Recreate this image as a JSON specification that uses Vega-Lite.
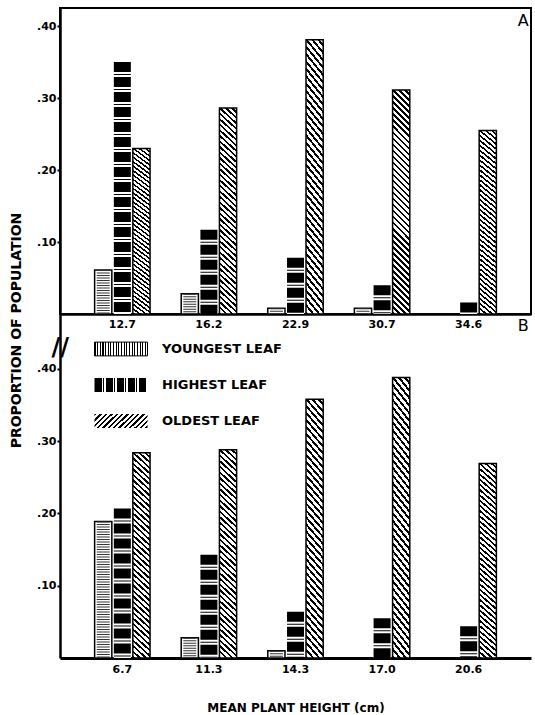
{
  "$schema": "https://vega.github.io/schema/vega-lite/v6.json",
  "background": "white",
  "padding": {"left": 8, "top": 7, "right": 0, "bottom": 0},
  "bounds": "flush",
  "spacing": 0,
  "data": {"values": [
    {"panel": "A", "height": "12.7", "leaf": "YOUNGEST LEAF", "value": 0.061},
    {"panel": "A", "height": "12.7", "leaf": "HIGHEST LEAF", "value": 0.350},
    {"panel": "A", "height": "12.7", "leaf": "OLDEST LEAF", "value": 0.230},
    {"panel": "A", "height": "16.2", "leaf": "YOUNGEST LEAF", "value": 0.028},
    {"panel": "A", "height": "16.2", "leaf": "HIGHEST LEAF", "value": 0.117},
    {"panel": "A", "height": "16.2", "leaf": "OLDEST LEAF", "value": 0.286},
    {"panel": "A", "height": "22.9", "leaf": "YOUNGEST LEAF", "value": 0.008},
    {"panel": "A", "height": "22.9", "leaf": "HIGHEST LEAF", "value": 0.078},
    {"panel": "A", "height": "22.9", "leaf": "OLDEST LEAF", "value": 0.381},
    {"panel": "A", "height": "30.7", "leaf": "YOUNGEST LEAF", "value": 0.008},
    {"panel": "A", "height": "30.7", "leaf": "HIGHEST LEAF", "value": 0.040},
    {"panel": "A", "height": "30.7", "leaf": "OLDEST LEAF", "value": 0.311},
    {"panel": "A", "height": "34.6", "leaf": "YOUNGEST LEAF", "value": 0},
    {"panel": "A", "height": "34.6", "leaf": "HIGHEST LEAF", "value": 0.016},
    {"panel": "A", "height": "34.6", "leaf": "OLDEST LEAF", "value": 0.255},
    {"panel": "B", "height": "6.7", "leaf": "YOUNGEST LEAF", "value": 0.189},
    {"panel": "B", "height": "6.7", "leaf": "HIGHEST LEAF", "value": 0.207},
    {"panel": "B", "height": "6.7", "leaf": "OLDEST LEAF", "value": 0.284},
    {"panel": "B", "height": "11.3", "leaf": "YOUNGEST LEAF", "value": 0.028},
    {"panel": "B", "height": "11.3", "leaf": "HIGHEST LEAF", "value": 0.143},
    {"panel": "B", "height": "11.3", "leaf": "OLDEST LEAF", "value": 0.288},
    {"panel": "B", "height": "14.3", "leaf": "YOUNGEST LEAF", "value": 0.010},
    {"panel": "B", "height": "14.3", "leaf": "HIGHEST LEAF", "value": 0.064},
    {"panel": "B", "height": "14.3", "leaf": "OLDEST LEAF", "value": 0.358},
    {"panel": "B", "height": "17.0", "leaf": "YOUNGEST LEAF", "value": 0},
    {"panel": "B", "height": "17.0", "leaf": "HIGHEST LEAF", "value": 0.055},
    {"panel": "B", "height": "17.0", "leaf": "OLDEST LEAF", "value": 0.388},
    {"panel": "B", "height": "20.6", "leaf": "YOUNGEST LEAF", "value": 0},
    {"panel": "B", "height": "20.6", "leaf": "HIGHEST LEAF", "value": 0.044},
    {"panel": "B", "height": "20.6", "leaf": "OLDEST LEAF", "value": 0.269}
  ]},
  "resolve": {"scale": {"opacity": "independent"}, "legend": {"opacity": "independent"}},
  "vconcat": [
    {
      "width": 471,
      "height": 306,
      "transform": [{"filter": "datum.panel === 'A'"}],
      "encoding": {
        "x": {"field": "height", "type": "nominal", "sort": null,
              "scale": {"domain": ["12.7", "16.2", "22.9", "30.7", "34.6"], "paddingInner": 0.36, "paddingOuter": 0.4},
              "axis": {"title": null, "labelAngle": 0, "tickSize": 0, "labelPadding": 4, "domainWidth": 2.5}},
        "xOffset": {"field": "leaf", "type": "nominal", "sort": ["YOUNGEST LEAF", "HIGHEST LEAF", "OLDEST LEAF"],
              "scale": {"domain": ["YOUNGEST LEAF", "HIGHEST LEAF", "OLDEST LEAF"], "paddingInner": 0.1, "paddingOuter": 0}},
        "y": {"field": "value", "type": "quantitative",
              "scale": {"domain": [0, 0.425], "nice": false},
              "axis": {"title": "PROPORTION OF POPULATION", "titleY": 322, "titlePadding": 13, "titleFontSize": 14, "titleFontWeight": "bold",
                       "values": [0.1, 0.2, 0.3, 0.4], "labelExpr": "slice(format(datum.value, '.2f'), 1)",
                       "tickSize": 3, "tickWidth": 2, "labelPadding": 1, "domainWidth": 2.5}}
      },
      "layer": [
        {
          "transform": [{"filter": "datum.leaf !== 'OLDEST LEAF'"}],
          "mark": {"type": "bar", "strokeWidth": 1.5, "fill": "#ffffff"},
          "encoding": {
            "stroke": {"condition": {"test": "datum.leaf === 'HIGHEST LEAF'", "value": "transparent"}, "value": "#000000"}
          }
        },
        {
          "transform": [{"filter": "datum.leaf === 'OLDEST LEAF'"}],
          "mark": {"type": "bar", "stroke": "#000000", "strokeWidth": 1.5,
            "fill": {"gradient": "linear", "x1": 0, "y1": 1, "x2": 0.08235, "y2": -0.07059, "stops": [
        {"offset":0,"color":"#000"},{"offset":0.0105,"color":"#000"},{"offset":0.0105,"color":"#fff"},{"offset":0.025,"color":"#fff"},
        {"offset":0.025,"color":"#000"},{"offset":0.0355,"color":"#000"},{"offset":0.0355,"color":"#fff"},{"offset":0.05,"color":"#fff"},
        {"offset":0.05,"color":"#000"},{"offset":0.0605,"color":"#000"},{"offset":0.0605,"color":"#fff"},{"offset":0.075,"color":"#fff"},
        {"offset":0.075,"color":"#000"},{"offset":0.0855,"color":"#000"},{"offset":0.0855,"color":"#fff"},{"offset":0.1,"color":"#fff"},
        {"offset":0.1,"color":"#000"},{"offset":0.1105,"color":"#000"},{"offset":0.1105,"color":"#fff"},{"offset":0.125,"color":"#fff"},
        {"offset":0.125,"color":"#000"},{"offset":0.1355,"color":"#000"},{"offset":0.1355,"color":"#fff"},{"offset":0.15,"color":"#fff"},
        {"offset":0.15,"color":"#000"},{"offset":0.1605,"color":"#000"},{"offset":0.1605,"color":"#fff"},{"offset":0.175,"color":"#fff"},
        {"offset":0.175,"color":"#000"},{"offset":0.1855,"color":"#000"},{"offset":0.1855,"color":"#fff"},{"offset":0.2,"color":"#fff"},
        {"offset":0.2,"color":"#000"},{"offset":0.2105,"color":"#000"},{"offset":0.2105,"color":"#fff"},{"offset":0.225,"color":"#fff"},
        {"offset":0.225,"color":"#000"},{"offset":0.2355,"color":"#000"},{"offset":0.2355,"color":"#fff"},{"offset":0.25,"color":"#fff"},
        {"offset":0.25,"color":"#000"},{"offset":0.2605,"color":"#000"},{"offset":0.2605,"color":"#fff"},{"offset":0.275,"color":"#fff"},
        {"offset":0.275,"color":"#000"},{"offset":0.2855,"color":"#000"},{"offset":0.2855,"color":"#fff"},{"offset":0.3,"color":"#fff"},
        {"offset":0.3,"color":"#000"},{"offset":0.3105,"color":"#000"},{"offset":0.3105,"color":"#fff"},{"offset":0.325,"color":"#fff"},
        {"offset":0.325,"color":"#000"},{"offset":0.3355,"color":"#000"},{"offset":0.3355,"color":"#fff"},{"offset":0.35,"color":"#fff"},
        {"offset":0.35,"color":"#000"},{"offset":0.3605,"color":"#000"},{"offset":0.3605,"color":"#fff"},{"offset":0.375,"color":"#fff"},
        {"offset":0.375,"color":"#000"},{"offset":0.3855,"color":"#000"},{"offset":0.3855,"color":"#fff"},{"offset":0.4,"color":"#fff"},
        {"offset":0.4,"color":"#000"},{"offset":0.4105,"color":"#000"},{"offset":0.4105,"color":"#fff"},{"offset":0.425,"color":"#fff"},
        {"offset":0.425,"color":"#000"},{"offset":0.4355,"color":"#000"},{"offset":0.4355,"color":"#fff"},{"offset":0.45,"color":"#fff"},
        {"offset":0.45,"color":"#000"},{"offset":0.4605,"color":"#000"},{"offset":0.4605,"color":"#fff"},{"offset":0.475,"color":"#fff"},
        {"offset":0.475,"color":"#000"},{"offset":0.4855,"color":"#000"},{"offset":0.4855,"color":"#fff"},{"offset":0.5,"color":"#fff"},
        {"offset":0.5,"color":"#000"},{"offset":0.5105,"color":"#000"},{"offset":0.5105,"color":"#fff"},{"offset":0.525,"color":"#fff"},
        {"offset":0.525,"color":"#000"},{"offset":0.5355,"color":"#000"},{"offset":0.5355,"color":"#fff"},{"offset":0.55,"color":"#fff"},
        {"offset":0.55,"color":"#000"},{"offset":0.5605,"color":"#000"},{"offset":0.5605,"color":"#fff"},{"offset":0.575,"color":"#fff"},
        {"offset":0.575,"color":"#000"},{"offset":0.5855,"color":"#000"},{"offset":0.5855,"color":"#fff"},{"offset":0.6,"color":"#fff"},
        {"offset":0.6,"color":"#000"},{"offset":0.6105,"color":"#000"},{"offset":0.6105,"color":"#fff"},{"offset":0.625,"color":"#fff"},
        {"offset":0.625,"color":"#000"},{"offset":0.6355,"color":"#000"},{"offset":0.6355,"color":"#fff"},{"offset":0.65,"color":"#fff"},
        {"offset":0.65,"color":"#000"},{"offset":0.6605,"color":"#000"},{"offset":0.6605,"color":"#fff"},{"offset":0.675,"color":"#fff"},
        {"offset":0.675,"color":"#000"},{"offset":0.6855,"color":"#000"},{"offset":0.6855,"color":"#fff"},{"offset":0.7,"color":"#fff"},
        {"offset":0.7,"color":"#000"},{"offset":0.7105,"color":"#000"},{"offset":0.7105,"color":"#fff"},{"offset":0.725,"color":"#fff"},
        {"offset":0.725,"color":"#000"},{"offset":0.7355,"color":"#000"},{"offset":0.7355,"color":"#fff"},{"offset":0.75,"color":"#fff"},
        {"offset":0.75,"color":"#000"},{"offset":0.7605,"color":"#000"},{"offset":0.7605,"color":"#fff"},{"offset":0.775,"color":"#fff"},
        {"offset":0.775,"color":"#000"},{"offset":0.7855,"color":"#000"},{"offset":0.7855,"color":"#fff"},{"offset":0.8,"color":"#fff"},
        {"offset":0.8,"color":"#000"},{"offset":0.8105,"color":"#000"},{"offset":0.8105,"color":"#fff"},{"offset":0.825,"color":"#fff"},
        {"offset":0.825,"color":"#000"},{"offset":0.8355,"color":"#000"},{"offset":0.8355,"color":"#fff"},{"offset":0.85,"color":"#fff"},
        {"offset":0.85,"color":"#000"},{"offset":0.8605,"color":"#000"},{"offset":0.8605,"color":"#fff"},{"offset":0.875,"color":"#fff"},
        {"offset":0.875,"color":"#000"},{"offset":0.8855,"color":"#000"},{"offset":0.8855,"color":"#fff"},{"offset":0.9,"color":"#fff"},
        {"offset":0.9,"color":"#000"},{"offset":0.9105,"color":"#000"},{"offset":0.9105,"color":"#fff"},{"offset":0.925,"color":"#fff"},
        {"offset":0.925,"color":"#000"},{"offset":0.9355,"color":"#000"},{"offset":0.9355,"color":"#fff"},{"offset":0.95,"color":"#fff"},
        {"offset":0.95,"color":"#000"},{"offset":0.9605,"color":"#000"},{"offset":0.9605,"color":"#fff"},{"offset":0.975,"color":"#fff"},
        {"offset":0.975,"color":"#000"},{"offset":0.9855,"color":"#000"},{"offset":0.9855,"color":"#fff"},{"offset":1,"color":"#fff"}
            ]}}
        },
        {
          "transform": [{"filter": "datum.leaf === 'YOUNGEST LEAF'"}],
          "mark": {"type": "rule", "strokeWidth": 13, "strokeDash": [1, 1.5], "color": "#333333"},
          "encoding": {"y2": {"datum": 0}}
        },
        {
          "transform": [{"filter": "datum.leaf === 'HIGHEST LEAF'"}],
          "mark": {"type": "rule", "strokeWidth": 17, "strokeDash": [10, 2, 1, 2], "color": "#000000"},
          "encoding": {"y2": {"datum": 0}}
        },
        {
          "transform": [{"filter": "datum.leaf === 'OLDEST LEAF' && datum.height === '34.6'"}],
          "mark": {"type": "text", "text": "A", "align": "right", "baseline": "alphabetic", "dx": 41, "fontSize": 16, "font": "DejaVu Sans", "color": "#000000"},
          "encoding": {"y": {"datum": 0.40}}
        }
      ]
    },
    {
      "width": 471,
      "height": 344,
      "view": {"stroke": null},
      "transform": [{"filter": "datum.panel === 'B'"}],
      "encoding": {
        "x": {"field": "height", "type": "nominal", "sort": null,
              "scale": {"domain": ["6.7", "11.3", "14.3", "17.0", "20.6"], "paddingInner": 0.36, "paddingOuter": 0.4},
              "axis": {"title": "MEAN PLANT HEIGHT (cm)", "titlePadding": 28, "titleFontSize": 12, "titleFontWeight": "bold",
                       "labelAngle": 0, "tickSize": 0, "labelPadding": 5, "domainWidth": 3}},
        "xOffset": {"field": "leaf", "type": "nominal", "sort": ["YOUNGEST LEAF", "HIGHEST LEAF", "OLDEST LEAF"],
              "scale": {"domain": ["YOUNGEST LEAF", "HIGHEST LEAF", "OLDEST LEAF"], "paddingInner": 0.1, "paddingOuter": 0}},
        "y": {"field": "value", "type": "quantitative",
              "scale": {"domain": [0, 0.476], "nice": false},
              "axis": {"title": null, "values": [0.1, 0.2, 0.3, 0.4], "labelExpr": "slice(format(datum.value, '.2f'), 1)",
                       "tickSize": 3, "tickWidth": 2, "labelPadding": 1, "domainWidth": 2.5}}
      },
      "layer": [
        {
          "transform": [{"filter": "datum.leaf !== 'OLDEST LEAF'"}],
          "mark": {"type": "bar", "strokeWidth": 1.5, "fill": "#ffffff"},
          "encoding": {
            "opacity": {"field": "leaf", "type": "nominal",
                     "scale": {"domain": ["YOUNGEST LEAF", "HIGHEST LEAF", "OLDEST LEAF"], "range": [1, 1, 1]},
                     "legend": {
                       "orient": "none", "legendX": 34, "legendY": 8, "title": null, "padding": 0,
                       "symbolType": "M-1,-0.26H1V0.26H-1Z", "symbolSize": 2809, "rowPadding": -21.5,
                       "symbolStrokeWidth": 1, "symbolOpacity": 1,
                       "labelOffset": 14, "labelFontSize": 13, "labelFont": "DejaVu Sans", "labelColor": "#000", "labelFontWeight": "bold",
                       "encoding": {"symbols": {
                         "fill": {"value": {"expr": "datum.value === 'YOUNGEST LEAF' ? {gradient: 'linear', x1: 0, y1: 0, x2: 1, y2: 0, stops: [{offset:0,color:'#000'},{offset:0.02,color:'#000'},{offset:0.02,color:'#fff'},{offset:0.05,color:'#fff'},{offset:0.05,color:'#000'},{offset:0.07,color:'#000'},{offset:0.07,color:'#fff'},{offset:0.1,color:'#fff'},{offset:0.1,color:'#000'},{offset:0.12,color:'#000'},{offset:0.12,color:'#fff'},{offset:0.15,color:'#fff'},{offset:0.15,color:'#000'},{offset:0.17,color:'#000'},{offset:0.17,color:'#fff'},{offset:0.2,color:'#fff'},{offset:0.2,color:'#000'},{offset:0.22,color:'#000'},{offset:0.22,color:'#fff'},{offset:0.25,color:'#fff'},{offset:0.25,color:'#000'},{offset:0.27,color:'#000'},{offset:0.27,color:'#fff'},{offset:0.3,color:'#fff'},{offset:0.3,color:'#000'},{offset:0.32,color:'#000'},{offset:0.32,color:'#fff'},{offset:0.35,color:'#fff'},{offset:0.35,color:'#000'},{offset:0.37,color:'#000'},{offset:0.37,color:'#fff'},{offset:0.4,color:'#fff'},{offset:0.4,color:'#000'},{offset:0.42,color:'#000'},{offset:0.42,color:'#fff'},{offset:0.45,color:'#fff'},{offset:0.45,color:'#000'},{offset:0.47,color:'#000'},{offset:0.47,color:'#fff'},{offset:0.5,color:'#fff'},{offset:0.5,color:'#000'},{offset:0.52,color:'#000'},{offset:0.52,color:'#fff'},{offset:0.55,color:'#fff'},{offset:0.55,color:'#000'},{offset:0.57,color:'#000'},{offset:0.57,color:'#fff'},{offset:0.6,color:'#fff'},{offset:0.6,color:'#000'},{offset:0.62,color:'#000'},{offset:0.62,color:'#fff'},{offset:0.65,color:'#fff'},{offset:0.65,color:'#000'},{offset:0.67,color:'#000'},{offset:0.67,color:'#fff'},{offset:0.7,color:'#fff'},{offset:0.7,color:'#000'},{offset:0.72,color:'#000'},{offset:0.72,color:'#fff'},{offset:0.75,color:'#fff'},{offset:0.75,color:'#000'},{offset:0.77,color:'#000'},{offset:0.77,color:'#fff'},{offset:0.8,color:'#fff'},{offset:0.8,color:'#000'},{offset:0.82,color:'#000'},{offset:0.82,color:'#fff'},{offset:0.85,color:'#fff'},{offset:0.85,color:'#000'},{offset:0.87,color:'#000'},{offset:0.87,color:'#fff'},{offset:0.9,color:'#fff'},{offset:0.9,color:'#000'},{offset:0.92,color:'#000'},{offset:0.92,color:'#fff'},{offset:0.95,color:'#fff'},{offset:0.95,color:'#000'},{offset:0.97,color:'#000'},{offset:0.97,color:'#fff'},{offset:1,color:'#fff'}]} : datum.value === 'HIGHEST LEAF' ? {gradient: 'linear', x1: 0, y1: 0, x2: 1.04, y2: 0, stops: [{offset:0,color:'#000'},{offset:0.14,color:'#000'},{offset:0.14,color:'#fff'},{offset:0.16,color:'#fff'},{offset:0.16,color:'#000'},{offset:0.175,color:'#000'},{offset:0.175,color:'#fff'},{offset:0.2,color:'#fff'},{offset:0.2,color:'#000'},{offset:0.34,color:'#000'},{offset:0.34,color:'#fff'},{offset:0.36,color:'#fff'},{offset:0.36,color:'#000'},{offset:0.375,color:'#000'},{offset:0.375,color:'#fff'},{offset:0.4,color:'#fff'},{offset:0.4,color:'#000'},{offset:0.54,color:'#000'},{offset:0.54,color:'#fff'},{offset:0.56,color:'#fff'},{offset:0.56,color:'#000'},{offset:0.575,color:'#000'},{offset:0.575,color:'#fff'},{offset:0.6,color:'#fff'},{offset:0.6,color:'#000'},{offset:0.74,color:'#000'},{offset:0.74,color:'#fff'},{offset:0.76,color:'#fff'},{offset:0.76,color:'#000'},{offset:0.775,color:'#000'},{offset:0.775,color:'#fff'},{offset:0.8,color:'#fff'},{offset:0.8,color:'#000'},{offset:0.94,color:'#000'},{offset:0.94,color:'#fff'},{offset:1,color:'#fff'}]} : {gradient: 'linear', x1: 0, y1: 0, x2: 1.1816, y2: 0.312, stops: [{offset:0,color:'#000'},{offset:0.035,color:'#000'},{offset:0.035,color:'#fff'},{offset:0.08,color:'#fff'},{offset:0.08,color:'#000'},{offset:0.115,color:'#000'},{offset:0.115,color:'#fff'},{offset:0.16,color:'#fff'},{offset:0.16,color:'#000'},{offset:0.195,color:'#000'},{offset:0.195,color:'#fff'},{offset:0.24,color:'#fff'},{offset:0.24,color:'#000'},{offset:0.275,color:'#000'},{offset:0.275,color:'#fff'},{offset:0.32,color:'#fff'},{offset:0.32,color:'#000'},{offset:0.355,color:'#000'},{offset:0.355,color:'#fff'},{offset:0.4,color:'#fff'},{offset:0.4,color:'#000'},{offset:0.435,color:'#000'},{offset:0.435,color:'#fff'},{offset:0.48,color:'#fff'},{offset:0.48,color:'#000'},{offset:0.515,color:'#000'},{offset:0.515,color:'#fff'},{offset:0.56,color:'#fff'},{offset:0.56,color:'#000'},{offset:0.595,color:'#000'},{offset:0.595,color:'#fff'},{offset:0.64,color:'#fff'},{offset:0.64,color:'#000'},{offset:0.675,color:'#000'},{offset:0.675,color:'#fff'},{offset:0.72,color:'#fff'},{offset:0.72,color:'#000'},{offset:0.755,color:'#000'},{offset:0.755,color:'#fff'},{offset:0.8,color:'#fff'},{offset:0.8,color:'#000'},{offset:0.835,color:'#000'},{offset:0.835,color:'#fff'},{offset:0.88,color:'#fff'},{offset:0.88,color:'#000'},{offset:0.915,color:'#000'},{offset:0.915,color:'#fff'},{offset:0.96,color:'#fff'},{offset:0.96,color:'#000'},{offset:0.995,color:'#000'},{offset:0.995,color:'#fff'},{offset:1,color:'#fff'}]}"}},
                         "stroke": {"value": {"expr": "datum.value === 'YOUNGEST LEAF' ? '#000' : 'transparent'"}},
                         "strokeWidth": {"value": 1},
                         "fillOpacity": {"value": 1}
                       }}
                     }},
            "stroke": {"condition": {"test": "datum.leaf === 'HIGHEST LEAF'", "value": "transparent"}, "value": "#000000"}
          }
        },
        {
          "transform": [{"filter": "datum.leaf === 'OLDEST LEAF'"}],
          "mark": {"type": "bar", "stroke": "#000000", "strokeWidth": 1.5,
            "fill": {"gradient": "linear", "x1": 0, "y1": 1, "x2": 0.08235, "y2": -0.07059, "stops": [
        {"offset":0,"color":"#000"},{"offset":0.0105,"color":"#000"},{"offset":0.0105,"color":"#fff"},{"offset":0.025,"color":"#fff"},
        {"offset":0.025,"color":"#000"},{"offset":0.0355,"color":"#000"},{"offset":0.0355,"color":"#fff"},{"offset":0.05,"color":"#fff"},
        {"offset":0.05,"color":"#000"},{"offset":0.0605,"color":"#000"},{"offset":0.0605,"color":"#fff"},{"offset":0.075,"color":"#fff"},
        {"offset":0.075,"color":"#000"},{"offset":0.0855,"color":"#000"},{"offset":0.0855,"color":"#fff"},{"offset":0.1,"color":"#fff"},
        {"offset":0.1,"color":"#000"},{"offset":0.1105,"color":"#000"},{"offset":0.1105,"color":"#fff"},{"offset":0.125,"color":"#fff"},
        {"offset":0.125,"color":"#000"},{"offset":0.1355,"color":"#000"},{"offset":0.1355,"color":"#fff"},{"offset":0.15,"color":"#fff"},
        {"offset":0.15,"color":"#000"},{"offset":0.1605,"color":"#000"},{"offset":0.1605,"color":"#fff"},{"offset":0.175,"color":"#fff"},
        {"offset":0.175,"color":"#000"},{"offset":0.1855,"color":"#000"},{"offset":0.1855,"color":"#fff"},{"offset":0.2,"color":"#fff"},
        {"offset":0.2,"color":"#000"},{"offset":0.2105,"color":"#000"},{"offset":0.2105,"color":"#fff"},{"offset":0.225,"color":"#fff"},
        {"offset":0.225,"color":"#000"},{"offset":0.2355,"color":"#000"},{"offset":0.2355,"color":"#fff"},{"offset":0.25,"color":"#fff"},
        {"offset":0.25,"color":"#000"},{"offset":0.2605,"color":"#000"},{"offset":0.2605,"color":"#fff"},{"offset":0.275,"color":"#fff"},
        {"offset":0.275,"color":"#000"},{"offset":0.2855,"color":"#000"},{"offset":0.2855,"color":"#fff"},{"offset":0.3,"color":"#fff"},
        {"offset":0.3,"color":"#000"},{"offset":0.3105,"color":"#000"},{"offset":0.3105,"color":"#fff"},{"offset":0.325,"color":"#fff"},
        {"offset":0.325,"color":"#000"},{"offset":0.3355,"color":"#000"},{"offset":0.3355,"color":"#fff"},{"offset":0.35,"color":"#fff"},
        {"offset":0.35,"color":"#000"},{"offset":0.3605,"color":"#000"},{"offset":0.3605,"color":"#fff"},{"offset":0.375,"color":"#fff"},
        {"offset":0.375,"color":"#000"},{"offset":0.3855,"color":"#000"},{"offset":0.3855,"color":"#fff"},{"offset":0.4,"color":"#fff"},
        {"offset":0.4,"color":"#000"},{"offset":0.4105,"color":"#000"},{"offset":0.4105,"color":"#fff"},{"offset":0.425,"color":"#fff"},
        {"offset":0.425,"color":"#000"},{"offset":0.4355,"color":"#000"},{"offset":0.4355,"color":"#fff"},{"offset":0.45,"color":"#fff"},
        {"offset":0.45,"color":"#000"},{"offset":0.4605,"color":"#000"},{"offset":0.4605,"color":"#fff"},{"offset":0.475,"color":"#fff"},
        {"offset":0.475,"color":"#000"},{"offset":0.4855,"color":"#000"},{"offset":0.4855,"color":"#fff"},{"offset":0.5,"color":"#fff"},
        {"offset":0.5,"color":"#000"},{"offset":0.5105,"color":"#000"},{"offset":0.5105,"color":"#fff"},{"offset":0.525,"color":"#fff"},
        {"offset":0.525,"color":"#000"},{"offset":0.5355,"color":"#000"},{"offset":0.5355,"color":"#fff"},{"offset":0.55,"color":"#fff"},
        {"offset":0.55,"color":"#000"},{"offset":0.5605,"color":"#000"},{"offset":0.5605,"color":"#fff"},{"offset":0.575,"color":"#fff"},
        {"offset":0.575,"color":"#000"},{"offset":0.5855,"color":"#000"},{"offset":0.5855,"color":"#fff"},{"offset":0.6,"color":"#fff"},
        {"offset":0.6,"color":"#000"},{"offset":0.6105,"color":"#000"},{"offset":0.6105,"color":"#fff"},{"offset":0.625,"color":"#fff"},
        {"offset":0.625,"color":"#000"},{"offset":0.6355,"color":"#000"},{"offset":0.6355,"color":"#fff"},{"offset":0.65,"color":"#fff"},
        {"offset":0.65,"color":"#000"},{"offset":0.6605,"color":"#000"},{"offset":0.6605,"color":"#fff"},{"offset":0.675,"color":"#fff"},
        {"offset":0.675,"color":"#000"},{"offset":0.6855,"color":"#000"},{"offset":0.6855,"color":"#fff"},{"offset":0.7,"color":"#fff"},
        {"offset":0.7,"color":"#000"},{"offset":0.7105,"color":"#000"},{"offset":0.7105,"color":"#fff"},{"offset":0.725,"color":"#fff"},
        {"offset":0.725,"color":"#000"},{"offset":0.7355,"color":"#000"},{"offset":0.7355,"color":"#fff"},{"offset":0.75,"color":"#fff"},
        {"offset":0.75,"color":"#000"},{"offset":0.7605,"color":"#000"},{"offset":0.7605,"color":"#fff"},{"offset":0.775,"color":"#fff"},
        {"offset":0.775,"color":"#000"},{"offset":0.7855,"color":"#000"},{"offset":0.7855,"color":"#fff"},{"offset":0.8,"color":"#fff"},
        {"offset":0.8,"color":"#000"},{"offset":0.8105,"color":"#000"},{"offset":0.8105,"color":"#fff"},{"offset":0.825,"color":"#fff"},
        {"offset":0.825,"color":"#000"},{"offset":0.8355,"color":"#000"},{"offset":0.8355,"color":"#fff"},{"offset":0.85,"color":"#fff"},
        {"offset":0.85,"color":"#000"},{"offset":0.8605,"color":"#000"},{"offset":0.8605,"color":"#fff"},{"offset":0.875,"color":"#fff"},
        {"offset":0.875,"color":"#000"},{"offset":0.8855,"color":"#000"},{"offset":0.8855,"color":"#fff"},{"offset":0.9,"color":"#fff"},
        {"offset":0.9,"color":"#000"},{"offset":0.9105,"color":"#000"},{"offset":0.9105,"color":"#fff"},{"offset":0.925,"color":"#fff"},
        {"offset":0.925,"color":"#000"},{"offset":0.9355,"color":"#000"},{"offset":0.9355,"color":"#fff"},{"offset":0.95,"color":"#fff"},
        {"offset":0.95,"color":"#000"},{"offset":0.9605,"color":"#000"},{"offset":0.9605,"color":"#fff"},{"offset":0.975,"color":"#fff"},
        {"offset":0.975,"color":"#000"},{"offset":0.9855,"color":"#000"},{"offset":0.9855,"color":"#fff"},{"offset":1,"color":"#fff"}
            ]}}
        },
        {
          "transform": [{"filter": "datum.leaf === 'YOUNGEST LEAF'"}],
          "mark": {"type": "rule", "strokeWidth": 13, "strokeDash": [1, 1.5], "color": "#333333"},
          "encoding": {"y2": {"datum": 0}}
        },
        {
          "transform": [{"filter": "datum.leaf === 'HIGHEST LEAF'"}],
          "mark": {"type": "rule", "strokeWidth": 17, "strokeDash": [10, 2, 1, 2], "color": "#000000"},
          "encoding": {"y2": {"datum": 0}}
        },
        {
          "transform": [{"filter": "datum.leaf === 'OLDEST LEAF' && datum.height === '20.6'"}],
          "mark": {"type": "text", "text": "B", "align": "right", "baseline": "alphabetic", "dx": 41, "fontSize": 16, "font": "DejaVu Sans", "color": "#000000"},
          "encoding": {"y": {"datum": 0.452}}
        },
        {
          "transform": [{"filter": "datum.leaf === 'YOUNGEST LEAF' && datum.height === '6.7'"}],
          "mark": {"type": "text", "text": "//", "align": "center", "baseline": "middle", "dx": -43, "fontSize": 24, "fontWeight": "bold", "font": "DejaVu Sans", "color": "#000000"},
          "encoding": {"y": {"datum": 0.429}}
        }
      ]
    }
  ],
  "config": {
    "font": "DejaVu Sans",
    "view": {"stroke": "#000000", "strokeWidth": 2},
    "axis": {"domainColor": "#000000", "labelColor": "#000000", "titleColor": "#000000", "tickColor": "#000000", "grid": false,
             "labelFont": "DejaVu Sans", "labelFontSize": 11, "labelFontWeight": "bold", "titleFont": "DejaVu Sans"}
  }
}
